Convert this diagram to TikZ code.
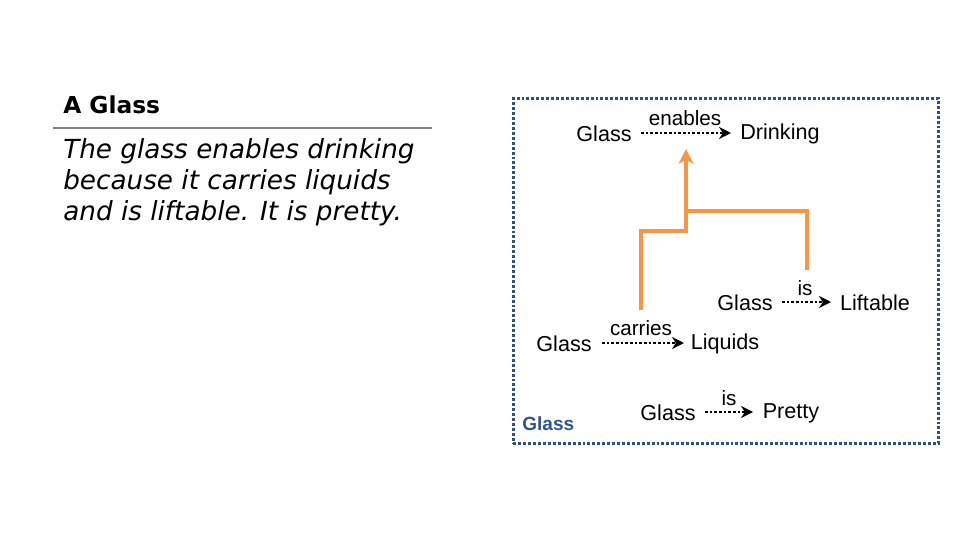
\documentclass[tikz,border=0pt]{standalone}
\usepackage{fontspec}
\setmainfont{Liberation Sans}
\newfontfamily\handfont{DejaVu Sans}
\usetikzlibrary{arrows.meta}
\definecolor{boxblue}{HTML}{2F5080}
\definecolor{lblblue}{HTML}{2E5590}
\definecolor{orng}{HTML}{F79646}
\tikzset{
  term/.style={inner sep=0pt, font=\fontsize{16.2}{19}\selectfont, text=black},
  rel/.style={inner sep=0pt, font=\fontsize{15.5}{18}\selectfont, text=black},
  predarrow/.style={line width=2pt, dash pattern=on 2pt off 1.5pt, -{Stealth[length=9pt,width=9pt]}},
  flow/.style={orng, line width=2.4pt},
  handline/.style={anchor=base west, inner sep=0pt, font=\handfont\itshape\fontsize{19.7}{23}\selectfont},
}
\begin{document}
\begin{tikzpicture}[x=0.75pt,y=-0.75pt]
\useasboundingbox (0,0) rectangle (960,540);
% left text
\node[anchor=base west, inner sep=0pt, font=\handfont\bfseries\fontsize{17.5}{20}\selectfont] (title) at (63,113) {A Glass};
\coordinate (rl) at (53,128);
\coordinate (rr) at (432,128);
\draw[gray, line width=1pt] (rl) -- (rr);
\node[handline] (body1) at (63,158) {The glass enables drinking};
\node[handline] (body2) at (63,189) {because it carries liquids};
\node[handline] (body3) at (63,220) {and is liftable. It is pretty.};
% box
\node[draw=boxblue, line width=2.2pt, dash pattern=on 2.2pt off 1.5pt, minimum width=425*0.75pt, minimum height=345*0.75pt, anchor=north west, inner sep=0pt] (frame) at (512,97) {};
\node[anchor=west, inner sep=0pt, text=lblblue, font=\bfseries\fontsize{14.3}{16}\selectfont] (flabel) at (522,424) {Glass};
% triple 1
\node[term] (g1) at (604,134) {Glass};
\node[term] (d1) at (780,134) {Drinking};
\draw[predarrow] (641,133) coordinate (a1s) -- (731,133) coordinate (a1e);
\node[rel] (r1) at (685,118) {enables};
% triple 2
\node[term] (g2) at (745,303) {Glass};
\node[term] (d2) at (875,303) {Liftable};
\draw[predarrow] (782,302) coordinate (a2s) -- (831,302) coordinate (a2e);
\node[rel] (r2) at (805,288) {is};
% triple 3
\node[term] (g3) at (564,344) {Glass};
\node[term] (d3) at (725,344) {Liquids};
\draw[predarrow] (602,343) coordinate (a3s) -- (684,343) coordinate (a3e);
\node[rel] (r3) at (641,328) {carries};
% triple 4
\node[term] (g4) at (668,413) {Glass};
\node[term] (d4) at (791,413) {Pretty};
\draw[predarrow] (705,412) coordinate (a4s) -- (753,412) coordinate (a4e);
\node[rel] (r4) at (729,398) {is};
% orange connectors
\coordinate (o1) at (641,310);
\coordinate (o2) at (807,270);
\coordinate (oj) at (686,211);
\coordinate (otip) at (686,149);
\draw[flow] (o1) -- (641,231) -- (686,231) -- (oj);
\draw[flow] (o2) -- (807,211) -- (oj);
\draw[flow, -{Stealth[length=11pt,width=11pt,inset=3pt]}] (oj) -- (otip);
\end{tikzpicture}
\end{document}
